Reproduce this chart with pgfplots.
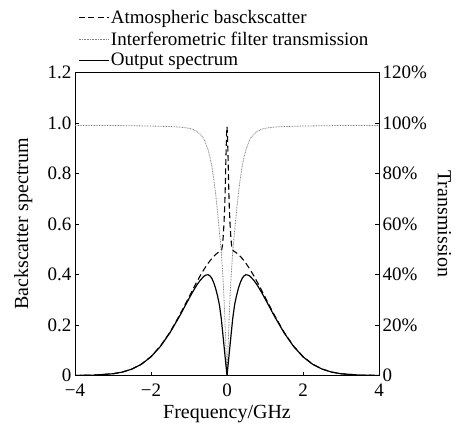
\documentclass[border=0pt]{standalone}
\usepackage{fontspec}
\setmainfont{Liberation Serif}
\usepackage{pgfplots}
\pgfplotsset{compat=1.18}
\usepackage{pgfplotstable}

\pgfplotstableread{
x y
-4 0.0003
-3.5 0.0015
-3 0.0070
-2.75 0.0138
-2.5 0.0258
-2.25 0.0453
-2 0.0750
-1.75 0.1170
-1.5 0.1720
-1.25 0.2383
-1 0.3111
-0.9 0.3405
-0.8 0.3691
-0.7 0.3963
-0.6 0.4215
-0.5 0.4441
-0.4 0.4634
-0.35 0.4718
-0.3 0.4791
-0.25 0.4854
-0.2 0.4906
-0.17 0.4932
-0.14 0.498
-0.12 0.515
-0.10 0.55
-0.08 0.60
-0.06 0.67
-0.05 0.72
-0.04 0.78
-0.03 0.85
-0.02 0.91
-0.01 0.96
0 0.985
0.01 0.96
0.02 0.91
0.03 0.85
0.04 0.78
0.05 0.72
0.06 0.67
0.08 0.60
0.10 0.55
0.12 0.515
0.14 0.498
0.17 0.4932
0.2 0.4906
0.25 0.4854
0.3 0.4791
0.35 0.4718
0.4 0.4634
0.5 0.4441
0.6 0.4215
0.7 0.3963
0.8 0.3691
0.9 0.3405
1 0.3111
1.25 0.2383
1.5 0.1720
1.75 0.1170
2 0.0750
2.25 0.0453
2.5 0.0258
2.75 0.0138
3 0.0070
3.5 0.0015
4 0.0003
}\bstab

\pgfplotstableread{
x y
-4 0.99
-3 0.99
-2.5 0.989
-2 0.988
-1.5 0.986
-1.25 0.984
-1 0.979
-0.9 0.975
-0.8 0.967
-0.7 0.955
-0.6 0.935
-0.5 0.895
-0.45 0.865
-0.4 0.83
-0.35 0.78
-0.3 0.72
-0.25 0.65
-0.2 0.57
-0.15 0.49
-0.12 0.42
-0.10 0.37
-0.08 0.31
-0.06 0.24
-0.04 0.16
-0.02 0.08
0 0
0.02 0.08
0.04 0.16
0.06 0.24
0.08 0.31
0.10 0.37
0.12 0.42
0.15 0.49
0.2 0.57
0.25 0.65
0.3 0.72
0.35 0.78
0.4 0.83
0.45 0.865
0.5 0.895
0.6 0.935
0.7 0.955
0.8 0.967
0.9 0.975
1 0.979
1.25 0.984
1.5 0.986
2 0.988
2.5 0.989
3 0.99
4 0.99
}\trtab

\pgfplotstableread{
x y
-4 0.0003
-3.5 0.0015
-3 0.0069
-2.75 0.0137
-2.5 0.0255
-2.25 0.0448
-2 0.0741
-1.75 0.1156
-1.5 0.1696
-1.25 0.2345
-1 0.3046
-0.9 0.332
-0.8 0.357
-0.7 0.378
-0.6 0.394
-0.55 0.398
-0.5 0.399
-0.45 0.395
-0.4 0.385
-0.35 0.368
-0.3 0.345
-0.25 0.316
-0.2 0.28
-0.15 0.225
-0.12 0.18
-0.10 0.15
-0.08 0.12
-0.06 0.09
-0.04 0.06
-0.02 0.03
0 0
0.02 0.03
0.04 0.06
0.06 0.09
0.08 0.12
0.10 0.15
0.12 0.18
0.15 0.225
0.2 0.28
0.25 0.316
0.3 0.345
0.35 0.368
0.4 0.385
0.45 0.395
0.5 0.399
0.55 0.398
0.6 0.394
0.7 0.378
0.8 0.357
0.9 0.332
1 0.3046
1.25 0.2345
1.5 0.1696
1.75 0.1156
2 0.0741
2.25 0.0448
2.5 0.0255
2.75 0.0137
3 0.0069
3.5 0.0015
4 0.0003
}\outtab

\begin{document}
\begin{tikzpicture}[font=\fontsize{19}{22}\selectfont]
\begin{axis}[name=main, scale only axis, width=304pt, height=303pt,
  at={(0,0)}, anchor=south west,
  xmin=-4, xmax=4, ymin=0, ymax=1.2,
  xtick={-4,-2,0,2,4}, xticklabels={−4,−2,0,2,4},
  ytick={0,0.2,0.4,0.6,0.8,1.0,1.2}, yticklabels={0,0.2,0.4,0.6,0.8,1.0,1.2},
  tick align=inside, xtick pos=bottom, ytick pos=left, major tick length=4pt,
  /pgf/number format/assume math mode=true,
  xticklabel style={yshift=-5pt},
  axis line style={line width=1pt},
  tick style={line width=0.8pt, black},
  xlabel={Frequency/GHz}, ylabel={Backscatter spectrum},
  xlabel style={at={(axis description cs:0.5,-0.126)}, anchor=center, font=\fontsize{20}{23}\selectfont},
  ylabel style={at={(axis description cs:-0.17,0.5)}, anchor=center, font=\fontsize{20}{23}\selectfont},
  legend style={at={(axis description cs:0.01,1.012)}, anchor=south west, draw=none, fill=none, inner sep=0pt, row sep=3.5pt,
    nodes={inner sep=1.5pt}},
  legend cell align=left,
  legend image code/.code={\draw[#1] (0pt,0pt) -- (30pt,0pt);},
]
\addplot[black, line width=1.1pt, dash pattern=on 6pt off 3.5pt] table {\bstab};
\addlegendentry{Atmospheric basckscatter}
\addplot[gray, line width=0.8pt, dash pattern=on 0.8pt off 0.8pt] table {\trtab};
\addlegendentry{Interferometric filter transmission}
\addplot[black, line width=1.2pt] table {\outtab};
\addlegendentry{Output spectrum}
\end{axis}
\begin{axis}[scale only axis, width=304pt, height=303pt,
  at={(0,0)}, anchor=south west,
  xmin=-4, xmax=4, ymin=0, ymax=120,
  axis x line=none, axis y line*=right,
  ytick={0,20,40,60,80,100,120},
  yticklabels={0,20\%,40\%,60\%,80\%,100\%,120\%},
  tick align=inside, major tick length=4pt,
  /pgf/number format/assume math mode=true,
  axis line style={line width=1pt},
  tick style={line width=0.8pt, black},
  ylabel={Transmission},
  ylabel style={at={(axis description cs:1.215,0.5)}, anchor=center, rotate=180, font=\fontsize{20}{23}\selectfont},
]
\end{axis}
\pgfresetboundingbox
\path[use as bounding box] ([xshift=-75pt,yshift=-55.3pt]main.south west) rectangle ([xshift=79pt,yshift=72.5pt]main.north east);
\end{tikzpicture}
\end{document}
